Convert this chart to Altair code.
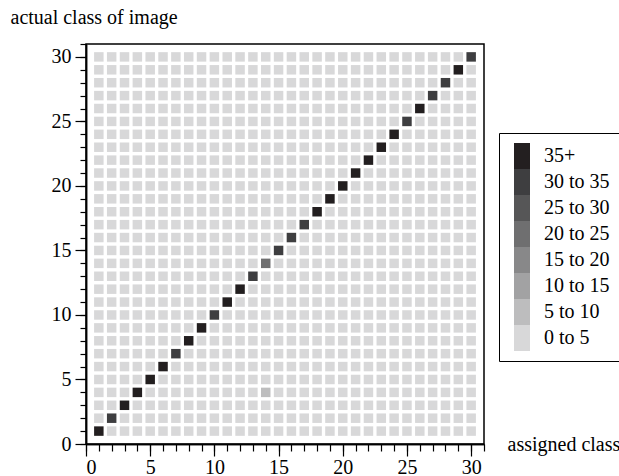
import altair as alt
import pandas as pd

# ---- data ----
classes = list(range(1, 31))
levels = ["35+", "30 to 35", "25 to 30", "20 to 25", "15 to 20", "10 to 15", "5 to 10", "0 to 5"]
level_colors = ["#231f20", "#3e3e40", "#565657", "#6f6f70", "#888889", "#a2a2a3", "#bdbdbe", "#d8d8d9"]
diagonal_levels = [
    "35+", "30 to 35", "35+", "35+", "35+", "35+", "30 to 35", "35+", "35+", "30 to 35",
    "35+", "35+", "30 to 35", "20 to 25", "30 to 35", "30 to 35", "30 to 35", "35+", "35+", "35+",
    "35+", "35+", "35+", "35+", "30 to 35", "35+", "30 to 35", "30 to 35", "35+", "30 to 35",
]
off_assigned = [14]
off_actual = [4]
off_levels = ["5 to 10"]
background_level = "0 to 5"
major_ticks = [0, 5, 10, 15, 20, 25, 30]
minor_ticks = list(range(0, 32))

level_of = {}
for a in classes:
    for b in classes:
        level_of[(b, a)] = diagonal_levels[a - 1] if a == b else background_level
for b, a, l in zip(off_assigned, off_actual, off_levels):
    level_of[(b, a)] = l

df = pd.DataFrame(
    [{"assigned": b, "actual": a, "level": l} for (b, a), l in level_of.items()]
)

FONT = "Liberation Serif"
xs = alt.Scale(domain=[0, 31], nice=False, zero=False)
ys = alt.Scale(domain=[0, 31], nice=False, zero=False)

cells = alt.Chart(df).mark_square(size=90, opacity=1, filled=True, strokeWidth=0).encode(
    x=alt.X(
        "assigned:Q", scale=xs,
        axis=alt.Axis(
            orient="bottom", values=major_ticks, tickSize=12, labelPadding=1,
            labelFont=FONT, labelFontSize=20, labelColor="black", labelBaseline="top",
            title="assigned class", titleX=421, titleY=6, titleAlign="left",
            titleBaseline="alphabetic", titleAngle=0, titleFont=FONT, titleFontSize=20,
        ),
    ),
    y=alt.Y(
        "actual:Q", scale=ys,
        axis=alt.Axis(
            orient="left", values=major_ticks, tickSize=11, labelPadding=4,
            labelFont=FONT, labelFontSize=20, labelColor="black",
            title="actual class of image", titleX=-76, titleY=-21, titleAngle=0,
            titleAlign="left", titleBaseline="alphabetic", titleFont=FONT, titleFontSize=20,
        ),
    ),
    color=alt.Color(
        "level:N",
        scale=alt.Scale(domain=levels, range=level_colors),
        legend=alt.Legend(
            title=None, orient="none", legendX=413, legendY=89, direction="vertical",
            symbolType="M-0.615,-1H0.615V1H-0.615Z", symbolSize=676, symbolStrokeWidth=0,
            labelFont=FONT, labelFontSize=20, labelColor="black",
            labelOffset=9, rowPadding=0, padding=10, strokeColor="black",
        ),
    ),
)

minor = alt.Chart(df).mark_square(size=10, opacity=0).encode(
    x=alt.X(
        "assigned:Q", scale=xs,
        axis=alt.Axis(orient="bottom", values=minor_ticks, tickSize=7, labels=False, title=None),
    ),
    y=alt.Y(
        "actual:Q", scale=ys,
        axis=alt.Axis(orient="left", values=minor_ticks, tickSize=6, labels=False, title=None),
    ),
)

chart = (
    alt.layer(cells, minor)
    .resolve_axis(x="independent", y="independent")
    .properties(
        width=398, height=400,
        autosize=alt.AutoSizeParams(type="none"),
        padding={"left": 86, "top": 44, "right": 135, "bottom": 32},
    )
    .configure(font=FONT)
    .configure_view(stroke="black", strokeWidth=1.5)
    .configure_axis(
        grid=False, domainColor="black", domainWidth=1.5, tickColor="black", tickWidth=1.2,
        labelColor="black", labelFont=FONT, labelFontSize=20, titleFont=FONT,
        titleFontSize=20, titleFontWeight="normal", titleColor="black",
    )
    .configure_legend(labelFont=FONT, labelFontSize=20)
)

chart.save("out.html", embed_options={"renderer": "svg", "actions": False})
